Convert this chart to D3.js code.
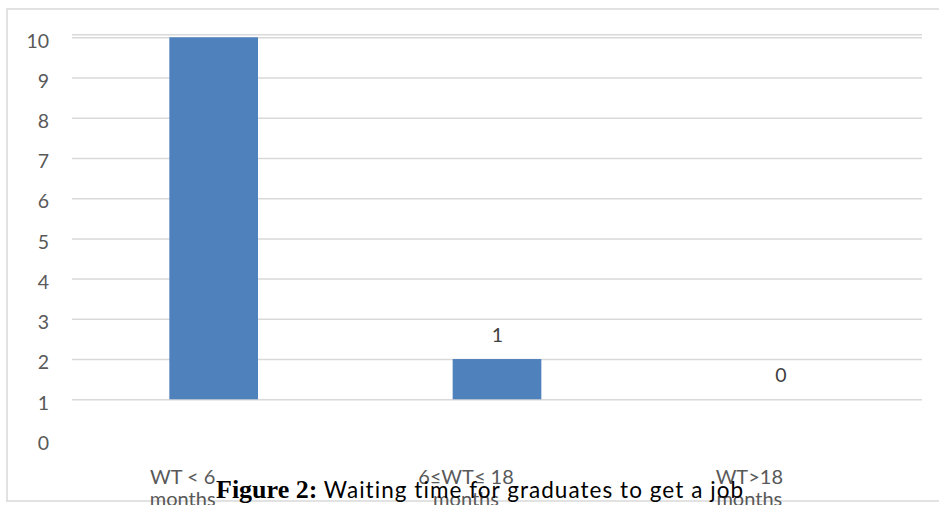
<!DOCTYPE html>
<html><head><meta charset="utf-8">
<script src="https://cdn.jsdelivr.net/npm/d3@7"></script>
<style>
html,body{margin:0;padding:0;background:#fff;overflow:hidden}
</style></head>
<body>
<svg id="chart" width="939" height="505"></svg>
<script>
// ---- data ----
const categories = ["WT < 6 months", "6≤WT≤ 18 months", "WT>18 months"];
const categoryLines = [["WT < 6", "months"], ["6≤WT≤ 18", "months"], ["WT>18", "months"]];
const values = [9, 1, 0];
const showValueLabel = [false, true, true];
const tickLabels = [0, 1, 2, 3, 4, 5, 6, 7, 8, 9, 10];
const axisBase = 1;
const gridValues = [1, 2, 3, 4, 5, 6, 7, 8, 9, 10];
const captionBold = "Figure 2:";
const captionText = " Waiting time for graduates to get a job";

// ---- layout ----
const W = 939, H = 505;
const plot = {left: 72, right: 922, top: 37.3, bottom: 439.5};
const svg = d3.select("#chart");
const font = "Lato, 'Open Sans', sans-serif";

// frame
svg.append("rect").attr("x", 7).attr("y", 9).attr("width", W + 10).attr("height", H - 13)
  .attr("fill", "#fff").attr("stroke", "#d9d9d9").attr("stroke-width", 1.5);

const x = d3.scaleBand().domain(categories).range([plot.left, plot.right])
  .paddingInner(0.687).paddingOuter(0.3435);
const y = d3.scaleLinear().domain([0, 10]).range([plot.bottom, plot.top]);

// gridlines
const grid = svg.append("g").attr("transform", `translate(${plot.left},0)`)
  .call(d3.axisLeft(y).tickValues(gridValues).tickSize(-(plot.right - plot.left)).tickFormat(""));
grid.select(".domain").remove();
grid.selectAll("line").attr("stroke", "#d9d9d9").attr("stroke-width", 1.5);
// doubled top line
svg.append("line").attr("x1", plot.left).attr("x2", plot.right)
  .attr("y1", y(10) - 2.6).attr("y2", y(10) - 2.6)
  .attr("stroke", "#d9d9d9").attr("stroke-width", 1.5);

// y axis labels
const yAxis = svg.append("g").attr("transform", `translate(49,0)`)
  .call(d3.axisLeft(y).tickValues(tickLabels).tickSize(0).tickPadding(0).tickFormat(d => String(d)));
yAxis.select(".domain").remove();
yAxis.selectAll("text").attr("font-family", font).attr("font-size", 19.5).attr("fill", "#595959")
  .attr("dy", "0.5em");

// bars
svg.append("g").selectAll("rect").data(values).join("rect")
  .attr("x", (d, i) => x(categories[i]))
  .attr("width", x.bandwidth())
  .attr("y", d => y(axisBase + d))
  .attr("height", d => y(axisBase) - y(axisBase + d))
  .attr("fill", "#4f81bd");

// value labels
const vl = svg.append("g");
values.forEach((v, i) => {
  if (!showValueLabel[i]) return;
  vl.append("text")
    .attr("x", x(categories[i]) + x.bandwidth() / 2 + 0.5)
    .attr("y", y(axisBase + v) - 24)
    .attr("dy", "0.36em")
    .attr("text-anchor", "middle")
    .attr("font-family", font).attr("font-size", 19.5).attr("fill", "#404040")
    .text(v);
});

// category labels
const cl = svg.append("g");
categories.forEach((c, i) => {
  const cx = x(c) + x.bandwidth() / 2 - 31;
  categoryLines[i].forEach((ln, j) => {
    cl.append("text").attr("x", cx).attr("y", 483.5 + j * 22)
      .attr("text-anchor", "middle")
      .attr("font-family", font).attr("font-size", 20).attr("fill", "#595959")
      .text(ln);
  });
});

// caption
const cap = svg.append("text").attr("x", 216).attr("y", 498).attr("fill", "#000");
cap.append("tspan").attr("font-family", "'Liberation Serif', 'Times New Roman', serif")
  .attr("font-weight", "bold").attr("font-size", 26).text(captionBold);
cap.append("tspan").attr("font-family", font).attr("font-size", 22.5)
  .attr("letter-spacing", 1.05).text(captionText);
</script>
</body></html>
